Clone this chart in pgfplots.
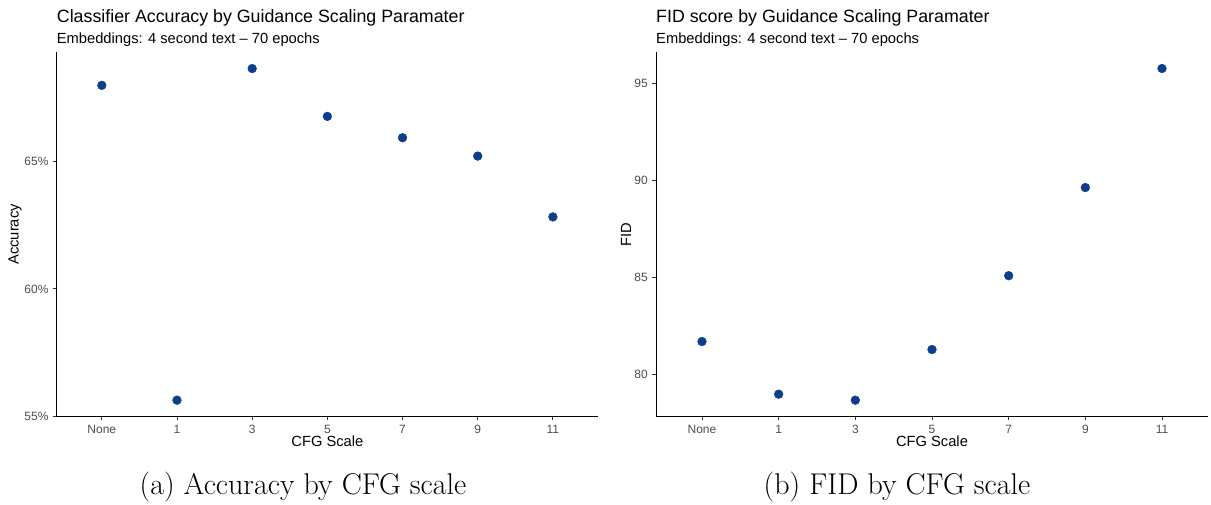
\documentclass[border=0pt]{standalone}
\usepackage{pgfplots}
\pgfplotsset{compat=1.18}
\usepackage{fontspec}
\setmainfont{Liberation Sans}
\newfontfamily\capfont{Latin Modern Roman}
\definecolor{pt}{RGB}{12,62,140}
\definecolor{tickgray}{RGB}{77,77,77}
\pgfplotsset{
  gg/.style={
    scale only axis,
    height=364.7pt,
    xmin=-0.6, xmax=6.6,
    xtick={0,1,2,3,4,5,6},
    xticklabels={None,1,3,5,7,9,11},
    axis x line*=bottom, axis y line*=left,
    axis line style={-, line width=1pt, black},
    tick align=outside,
    major tick length=3.7pt,
    tick style={line width=0.9pt, color=black!80},
    ticklabel style={font=\fontsize{12}{13}\selectfont, text=tickgray},
    xticklabel style={yshift=-1pt},
    yticklabel style={xshift=-1pt},
    every axis x label/.style={at={(axis description cs:0.5,0)}, anchor=center, yshift=-24.5pt, font=\fontsize{14.7}{16}\selectfont},
    clip=false,
  }
}
\begin{document}
\begin{tikzpicture}
\path[use as bounding box] (0,0) rectangle (1211pt,504pt);
% left panel
\begin{axis}[gg,
  at={(56.7pt,87.3pt)}, anchor=south west,
  width=541.3pt,
  ymin=54.98, ymax=69.31,
  ytick={55,60,65}, yticklabels={55\%,60\%,65\%},
  xlabel={CFG Scale}, ylabel={Accuracy},
  every axis y label/.style={at={([xshift=-41.7pt]axis description cs:0,0.5)}, rotate=90, anchor=center, font=\fontsize{14.7}{16}\selectfont},
]
\addplot[only marks, mark=*, mark size=4.4pt, color=pt] coordinates {
(0,68.00) (1,55.63) (2,68.66) (3,66.78) (4,65.94) (5,65.22) (6,62.83)};
\end{axis}
% right panel
\begin{axis}[gg,
  at={(656pt,87.3pt)}, anchor=south west,
  width=552pt,
  ymin=77.83, ymax=96.61,
  ytick={80,85,90,95}, yticklabels={80,85,90,95},
  xlabel={CFG Scale}, ylabel={FID},
  every axis y label/.style={at={([xshift=-30pt]axis description cs:0,0.5)}, rotate=90, anchor=center, font=\fontsize{14.7}{16}\selectfont},
]
\addplot[only marks, mark=*, mark size=4.4pt, color=pt] coordinates {
(0,81.70) (1,78.99) (2,78.68) (3,81.29) (4,85.09) (5,89.63) (6,95.76)};
\end{axis}
% titles
\node[anchor=base west, inner sep=0pt, font=\fontsize{17.8}{20}\selectfont] at (56.7pt,481pt) {Classifier Accuracy by Guidance Scaling Paramater};
\node[anchor=base west, inner sep=0pt, font=\fontsize{14.7}{16}\selectfont] at (56.7pt,460pt) {Embeddings: 4 second text -- 70 epochs};
\node[anchor=base west, inner sep=0pt, font=\fontsize{17.8}{20}\selectfont] at (656pt,481pt) {FID score by Guidance Scaling Paramater};
\node[anchor=base west, inner sep=0pt, font=\fontsize{14.7}{16}\selectfont] at (656pt,460pt) {Embeddings: 4 second text -- 70 epochs};
% captions
\node[anchor=base, inner sep=0pt, font=\capfont\fontsize{30}{33}\selectfont] at (303pt,10pt) {(a) Accuracy by CFG scale};
\node[anchor=base, inner sep=0pt, font=\capfont\fontsize{30}{33}\selectfont] at (897pt,10pt) {(b) FID by CFG scale};
\end{tikzpicture}
\end{document}
